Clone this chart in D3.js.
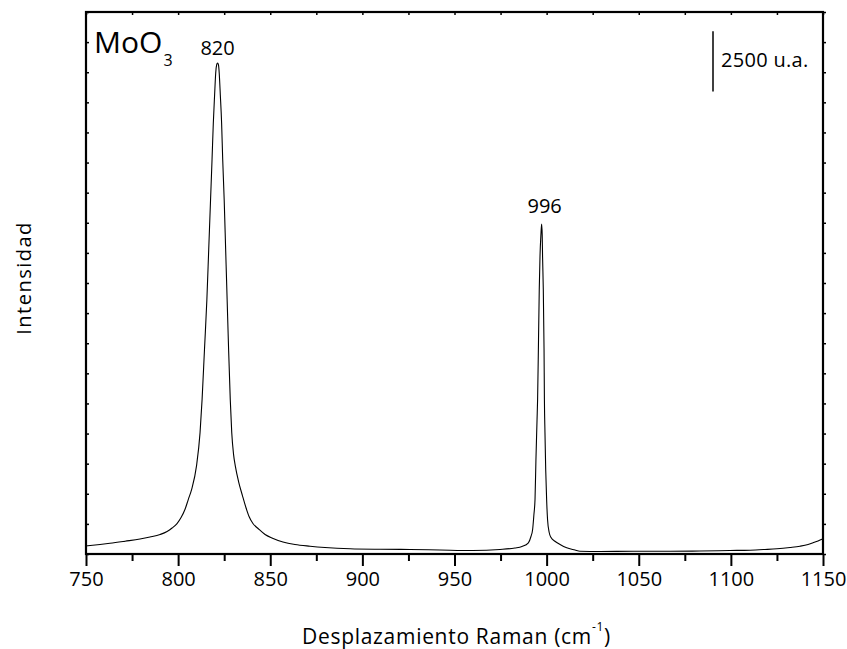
<!DOCTYPE html>
<html>
<head>
<meta charset="utf-8">
<script src="https://cdn.jsdelivr.net/npm/d3@7"></script>
<style>
  body { margin: 0; background: #fff; }
  svg { display: block; }
  text { font-family: "Open Sans", sans-serif; fill: #000; }
</style>
</head>
<body>
<svg width="847" height="649"></svg>
<script>
// spectrum
var ramanShift = [750.0, 757.6, 763.0, 771.2, 779.3, 784.7, 790.2, 794.0, 796.7, 799.4,
    801.6, 803.7, 805.5, 807.3, 810.0, 811.9, 813.0, 814.3, 815.6, 816.6,
    817.6, 818.4, 819.1, 819.8, 820.4, 820.9, 821.4, 821.9, 822.3, 822.9,
    823.6, 824.2, 825.0, 825.8, 826.6, 827.4, 828.3, 829.1, 830.1, 831.1,
    832.8, 834.9, 836.8, 838.5, 840.6, 843.4, 847.2, 850.9, 856.9,
    863.4, 871.6, 879.7, 893.3, 909.6, 925.8, 942.1, 960.0, 974.7, 982.8,
    986.6, 990.1, 991.5, 992.4, 993.1, 993.7, 994.2, 994.8, 995.1, 995.6,
    996.0, 996.4, 996.9, 997.3, 997.6, 997.8, 998.2, 998.6, 998.8, 999.1,
    999.5, 1000.0, 1000.5, 1001.4, 1002.4, 1004.5, 1007.3, 1010.9, 1015.4, 1018.1,
    1029.0, 1046.9, 1067.0, 1083.2, 1099.5, 1110.4, 1118.5, 1125.0, 1132.1, 1137.5,
    1141.9, 1144.6, 1147.3, 1150.0];
var intensity = [332, 394, 444, 531, 622, 705, 809, 933, 1078, 1265,
    1514, 1846, 2260, 2675, 3670, 5039, 6408, 8482, 10555, 12629,
    14703, 16362, 17896, 19058, 19970, 20302, 20385, 20302, 19970, 19058,
    17896, 16362, 14703, 12629, 10555, 8482, 6408, 5039, 4127, 3629,
    3007, 2426, 1929, 1555, 1265, 1058, 809, 664, 498,
    394, 323, 270, 216, 195, 187, 166, 145, 187, 249,
    311, 465, 726, 1016, 1638, 2260, 3919, 5578, 6408, 8896,
    10970, 12339, 13251, 13695, 13251, 12339, 10970, 8482, 6408, 5039,
    3505, 2260, 1431, 892, 684, 531, 394, 257, 166, 116,
    104, 116, 116, 124, 145, 158, 187, 216, 270, 323,
    394, 465, 539, 630];

var xMajor = [750, 800, 850, 900, 950, 1000, 1050, 1100, 1150];
var xMinor = [775, 825, 875, 925, 975, 1025, 1075, 1125];
var yTicks = d3.range(0, 22501, 1250);

var peakLabels = [{x: 821.4, v: 20385, text: "820"}, {x: 997.3, v: 13695, text: "996"}];
var scaleBar = [19200, 21700];

var svg = d3.select("svg");
var pLeft = 86, pRight = 823, pTop = 12, pBottom = 554;

var x = d3.scaleLinear().domain([750, 1150]).range([pLeft, pRight]);
var y = d3.scaleLinear().domain([0, 22500]).range([pBottom, pTop]);

// axes
var gx = svg.append("g").attr("transform", "translate(0," + pBottom + ")")
    .call(d3.axisBottom(x).tickValues(xMajor).tickSize(12).tickPadding(6).tickFormat(d3.format("d")));
gx.selectAll("text").style("font-size", "20px");
gx.selectAll("line").attr("stroke-width", 2);

var gxm = svg.append("g").attr("transform", "translate(0," + pBottom + ")")
    .call(d3.axisBottom(x).tickValues(xMinor).tickSize(7).tickFormat(""));
gxm.selectAll("line").attr("stroke-width", 2);

var gt = svg.append("g").attr("transform", "translate(0," + pTop + ")")
    .call(d3.axisTop(x).tickValues(xMajor.concat(xMinor)).tickSize(-3).tickFormat(""));
gt.selectAll("line").attr("stroke-width", 1.5);

var gl = svg.append("g").attr("transform", "translate(" + pLeft + ",0)")
    .call(d3.axisLeft(y).tickValues(yTicks).tickSize(-3).tickFormat(""));
gl.selectAll("line").attr("stroke-width", 1.5);

var gr = svg.append("g").attr("transform", "translate(" + pRight + ",0)")
    .call(d3.axisRight(y).tickValues(yTicks).tickSize(3).tickFormat(""));
gr.selectAll("line").attr("stroke-width", 1.5);

svg.selectAll(".domain").remove();

// spectrum
var pts = ramanShift.map(function(d, i) { return [d, intensity[i]]; });
svg.append("path")
    .datum(pts)
    .attr("fill", "none")
    .attr("stroke", "#000")
    .attr("stroke-width", 1.1)
    .attr("d", d3.line()
        .x(function(d) { return x(d[0]); })
        .y(function(d) { return y(d[1]); })
        .curve(d3.curveMonotoneX));

// frame
svg.append("rect")
    .attr("x", pLeft).attr("y", pTop)
    .attr("width", pRight - pLeft).attr("height", pBottom - pTop)
    .attr("fill", "none").attr("stroke", "#000").attr("stroke-width", 2.2);

// peak labels
svg.selectAll(".peak").data(peakLabels).enter().append("text")
    .attr("class", "peak")
    .attr("x", function(d) { return x(d.x) + (d.x > 900 ? 3 : 0); })
    .attr("y", function(d) { return y(d.v) - (d.x > 900 ? 11 : 8); })
    .attr("text-anchor", "middle")
    .style("font-size", "20px")
    .text(function(d) { return d.text; });

// compound name
var mo = svg.append("text").attr("x", 94).attr("y", 53).style("font-size", "30px");
mo.append("tspan").text("MoO");
mo.append("tspan").attr("dy", 13).attr("dx", 1).style("font-size", "16px").text("3");

// scale bar
svg.append("line")
    .attr("x1", 713).attr("x2", 713)
    .attr("y1", y(scaleBar[1])).attr("y2", y(scaleBar[0]))
    .attr("stroke", "#000").attr("stroke-width", 1.5);
svg.append("text").attr("x", 721).attr("y", 67)
    .style("font-size", "20px").style("letter-spacing", "0.3px").text("2500 u.a.");

// axis titles
var xt = svg.append("text")
    .attr("x", (pLeft + pRight) / 2 + 2).attr("y", 644)
    .attr("text-anchor", "middle")
    .style("font-size", "21px")
    .style("letter-spacing", "0.7px");
xt.append("tspan").text("Desplazamiento Raman (cm");
xt.append("tspan").attr("dy", -13).style("font-size", "12px").text("-1");
xt.append("tspan").attr("dy", 13).text(")");

svg.append("text")
    .attr("transform", "translate(31,278) rotate(-90)")
    .attr("text-anchor", "middle")
    .style("font-size", "20px")
    .style("letter-spacing", "1.5px")
    .text("Intensidad");
</script>
</body>
</html>
